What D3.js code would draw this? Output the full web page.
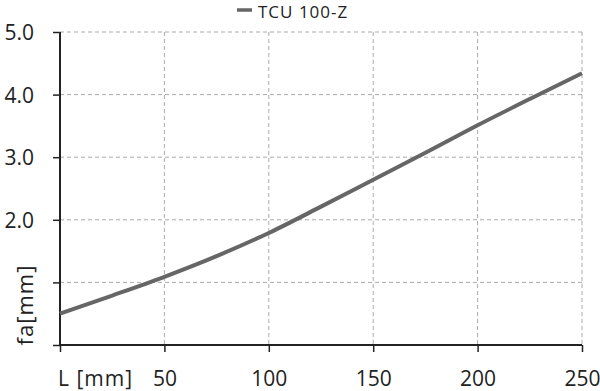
<!DOCTYPE html>
<html>
<head>
<meta charset="utf-8">
<script src="https://cdn.jsdelivr.net/npm/d3@7"></script>
<style>
  body { margin: 0; background: #fff; }
  text { font-family: "Open Sans", sans-serif; fill: #222; }
</style>
</head>
<body>
<div id="chart"></div>
<script>
// data
const lengths = [0, 25, 50, 75, 100, 125, 150, 175, 200, 225, 250];
const deflection = [0.5, 0.79, 1.09, 1.42, 1.79, 2.21, 2.64, 3.07, 3.51, 3.93, 4.34];
const xTicks = [50, 100, 150, 200, 250];
const yTicks = [1, 2, 3, 4, 5];
const yLabels = ["", "2.0", "3.0", "4.0", "5.0"];
const seriesName = "TCU 100-Z";

const margin = {top: 32, right: 18, bottom: 46, left: 60},
    width = 600 - margin.left - margin.right,
    height = 391 - margin.top - margin.bottom;

let x = d3.scaleLinear().domain([0, 250]).range([0, width]),
    y = d3.scaleLinear().domain([0, 5]).range([height, 0]);

const root = d3.select("#chart")
  .append("svg")
  .attr("width", 600)
  .attr("height", 391);

const svg = root.append("g")
  .attr("transform", "translate(" + margin.left + "," + margin.top + ")");

// grid
svg.selectAll(".vgrid")
  .data(xTicks)
  .enter()
  .append("line")
  .attr("class", "vgrid")
  .attr("x1", d => x(d)).attr("x2", d => x(d))
  .attr("y1", 0).attr("y2", height)
  .attr("stroke", "#aaa")
  .attr("stroke-width", 1)
  .attr("stroke-dasharray", "4,3");

svg.selectAll(".hgrid")
  .data(yTicks)
  .enter()
  .append("line")
  .attr("class", "hgrid")
  .attr("x1", 0).attr("x2", width)
  .attr("y1", d => y(d)).attr("y2", d => y(d))
  .attr("stroke", "#aaa")
  .attr("stroke-width", 1)
  .attr("stroke-dasharray", "4,3");

// axes
let xAxis = d3.axisBottom(x).tickValues([0].concat(xTicks)).tickSize(7).tickFormat(d => d === 0 ? "" : d),
    yAxis = d3.axisLeft(y).tickValues([0].concat(yTicks)).tickSize(7).tickFormat((d, i) => i === 0 ? "" : yLabels[i - 1]);

const gx = svg.append("g")
  .attr("class", "x axis")
  .attr("transform", "translate(0," + height + ")")
  .call(xAxis);

const gy = svg.append("g")
  .attr("class", "y axis")
  .call(yAxis);

[gx, gy].forEach(g => {
  g.select(".domain").attr("stroke", "#222").attr("stroke-width", 2);
  g.selectAll(".tick line").attr("stroke", "#222").attr("stroke-width", 1.5);
  g.selectAll(".tick text").attr("font-size", "21px").attr("font-family", "Open Sans, sans-serif").attr("fill", "#222");
});
gx.select(".domain").attr("d", "M0,0H" + width);
gy.select(".domain").attr("d", "M0," + height + "V0");
gx.selectAll(".tick text").attr("dy", null).attr("y", 41);
gy.selectAll(".tick text").attr("x", -26).attr("dy", "0.36em");

// curve
const line = d3.line()
  .x((d, i) => x(lengths[i]))
  .y(d => y(d))
  .curve(d3.curveMonotoneX);

svg.append("path")
  .datum(deflection)
  .attr("fill", "none")
  .attr("stroke", "#666")
  .attr("stroke-width", 4)
  .attr("d", line);

// axis titles
svg.append("text")
  .attr("x", -2)
  .attr("y", height + 41)
  .attr("font-size", "21px")
  .attr("letter-spacing", "1px")
  .text("L [mm]");

svg.append("text")
  .attr("transform", "rotate(-90)")
  .attr("x", -(height - 40))
  .attr("y", -27)
  .style("text-anchor", "middle")
  .attr("font-size", "22px")
  .attr("letter-spacing", "1px")
  .text("fa[mm]");

// legend
root.append("line")
  .attr("x1", 237).attr("x2", 252)
  .attr("y1", 10).attr("y2", 10)
  .attr("stroke", "#666")
  .attr("stroke-width", 3.5);

root.append("text")
  .attr("x", 258)
  .attr("y", 18)
  .attr("font-size", "17px")
  .attr("letter-spacing", "1px")
  .text(seriesName);
</script>
</body>
</html>
